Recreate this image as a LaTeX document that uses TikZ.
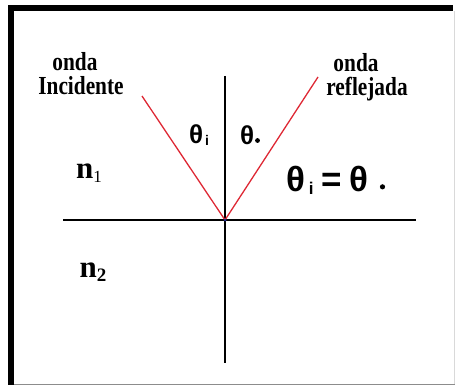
\documentclass[tikz,border=0pt]{standalone}
\usepackage{fontspec}
\setmainfont{Liberation Serif}
\newfontfamily\lbl[FakeStretch=0.82]{Liberation Serif}
\newfontfamily\grk{Liberation Sans}
\definecolor{rayred}{RGB}{222,40,52}
\definecolor{dotblue}{RGB}{30,40,140}
\newcommand{\subdot}[1]{\raisebox{0.1ex}{\tikz\fill (0,0) circle (#1);}}
\tikzset{
  ray/.style={draw=rayred, line width=1.3pt},
  axisline/.style={draw=black, line width=1.8pt},
  wlabel/.style={font=\lbl\bfseries\fontsize{26}{26}\selectfont, inner sep=0pt},
  nlabel/.style={font=\bfseries\fontsize{31}{31}\selectfont, inner sep=0pt},
  tlabel/.style={font=\grk\bfseries\fontsize{26}{26}\selectfont, inner sep=0pt},
  elabel/.style={font=\grk\bfseries\fontsize{35}{35}\selectfont, inner sep=0pt},
}
\begin{document}
\begin{tikzpicture}[x=1pt,y=-1pt]
\useasboundingbox (0,0) rectangle (455,385);
% frame
\fill[black] (8,5) rectangle (453,11);
\fill[black] (8,5) rectangle (14,385);
\draw[black!45, line width=1pt] (14,384) -- (455,384);
\draw[black!15, line width=0.8pt] (454,11) -- (454,384);
% axes
\coordinate (O) at (225,220);
\coordinate (vt) at (225,76);
\coordinate (vb) at (225,363);
\coordinate (hl) at (63,220);
\coordinate (hr) at (416,220);
\coordinate (inc) at (142,96);
\coordinate (refl) at (318,77);
\draw[axisline] (vt) -- (vb);
\draw[axisline] (hl) -- (hr);
\draw[ray] (inc) -- (O);
\draw[ray] (O) -- (refl);
\fill[dotblue] (O) circle (1.5pt);
% labels
\node[wlabel] (ondaL) at (75,62) {onda};
\node[wlabel] (incL) at (81,86) {Incidente};
\node[wlabel] (ondaR) at (356,63) {onda};
\node[wlabel] (refR) at (367,89) {reflejada};
\node[tlabel] (thi) at (199,135) {θ\hspace{2pt}\raisebox{-0.15ex}{\fontsize{14}{14}\selectfont i}};
\node[tlabel] (thr) at (250,135) {θ\hspace{1pt}\subdot{2.4pt}};
\node[nlabel] (n1) at (89,173) {n\raisebox{-0.3ex}{\fontsize{17}{17}\mdseries\selectfont 1}};
\node[nlabel] (n2) at (93,272) {n\raisebox{-0.3ex}{\fontsize{19}{19}\selectfont 2}};
\node[elabel] (eq) at (336,180) {θ\hspace{3pt}\raisebox{-0.15ex}{\fontsize{17}{17}\selectfont i}\hspace{8pt}=\hspace{8pt}θ\hspace{11pt}\subdot{2.6pt}};
\end{tikzpicture}
\end{document}
